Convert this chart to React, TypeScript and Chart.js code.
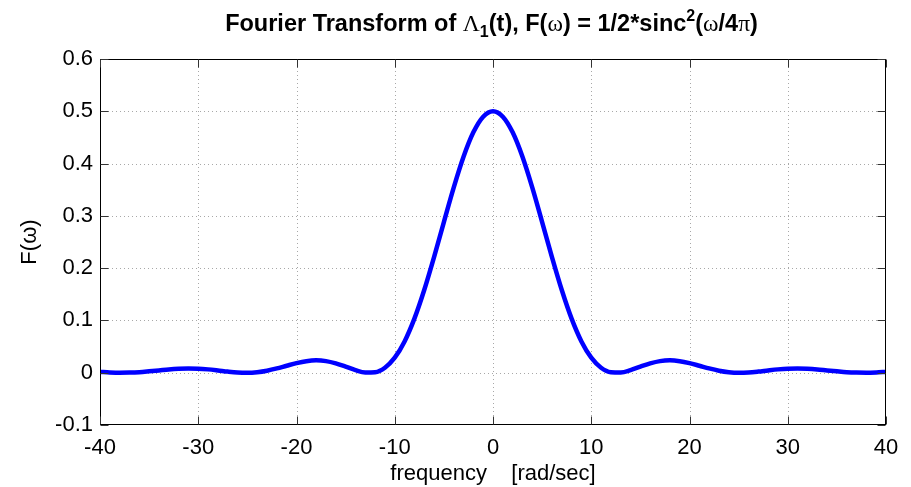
import React, { useEffect, useRef } from "react";
import { Chart, registerables } from "chart.js";

Chart.register(...registerables);

// ---- data ----
const frequency: number[] = [
  -40, -39, -38, -37, -36, -35, -34, -33, -32, -31, -30, -29, -28, -27, -26, -25, -24, -23, -22, -21,
  -20, -19, -18, -17, -16, -15, -14, -13, -12, -11, -10, -9, -8, -7, -6, -5, -4, -3, -2, -1,
  0,
  1, 2, 3, 4, 5, 6, 7, 8, 9, 10, 11, 12, 13, 14, 15, 16, 17, 18, 19, 20,
  21, 22, 23, 24, 25, 26, 27, 28, 29, 30, 31, 32, 33, 34, 35, 36, 37, 38, 39, 40,
];

const magnitude: number[] = [
  0.0015, 0.0005, 0.0, 0.0002, 0.001, 0.0026, 0.0044, 0.0063, 0.0076, 0.0082,
  0.0078, 0.0064, 0.0044, 0.0022, 0.0005, 0.0, 0.0011, 0.0039, 0.0082, 0.0134,
  0.0184, 0.0221, 0.0236, 0.0222, 0.0179, 0.0116, 0.005, 0.0006, 0.0011, 0.0096,
  0.0287, 0.0598, 0.1034, 0.1581, 0.2211, 0.2882, 0.354, 0.413, 0.4597, 0.4897,
  0.5,
  0.4897, 0.4597, 0.413, 0.354, 0.2882, 0.2211, 0.1581, 0.1034, 0.0598, 0.0287,
  0.0096, 0.0011, 0.0006, 0.005, 0.0116, 0.0179, 0.0222, 0.0236, 0.0221, 0.0184,
  0.0134, 0.0082, 0.0039, 0.0011, 0.0, 0.0005, 0.0022, 0.0044, 0.0064, 0.0078,
  0.0082, 0.0076, 0.0063, 0.0044, 0.0026, 0.001, 0.0002, 0.0, 0.0005, 0.0015,
];

const xTickValues: number[] = [-40, -30, -20, -10, 0, 10, 20, 30, 40];
const xTickLabels: string[] = ["-40", "-30", "-20", "-10", "0", "10", "20", "30", "40"];
const yTickValues: number[] = [-0.1, 0, 0.1, 0.2, 0.3, 0.4, 0.5, 0.6];
const yTickLabels: string[] = ["-0.1", "0", "0.1", "0.2", "0.3", "0.4", "0.5", "0.6"];

const xAxisTitle = "frequency    [rad/sec]";
const yAxisTitle = "F(\u03c9)";

// title pieces: b = bold sans, s = symbol (serif), sub / sup = small bold
const titleParts: { text: string; kind: string }[] = [
  { text: "Fourier Transform of ", kind: "b" },
  { text: "\u039b", kind: "s" },
  { text: "1", kind: "sub" },
  { text: "(t), F(", kind: "b" },
  { text: "\u03c9", kind: "s" },
  { text: ") = 1/2*sinc", kind: "b" },
  { text: "2", kind: "sup" },
  { text: "(", kind: "b" },
  { text: "\u03c9", kind: "s" },
  { text: "/4", kind: "b" },
  { text: "\u03c0", kind: "s" },
  { text: ")", kind: "b" },
];

const SANS = '"Liberation Sans", Arial, Helvetica, sans-serif';
const SERIF = '"Liberation Serif", "Times New Roman", serif';

const partFont = (kind: string) => {
  if (kind === "b") return `bold 23.5px ${SANS}`;
  if (kind === "s") return `23.5px ${SERIF}`;
  return `bold 16px ${SANS}`;
};
const partDy = (kind: string) => (kind === "sub" ? 6 : kind === "sup" ? -10 : 0);

const matlabAxesPlugin = {
  id: "matlabAxes",
  beforeDatasetsDraw(chart: any) {
    const { ctx, chartArea } = chart;
    const xs = chart.scales.x;
    const ys = chart.scales.y;
    ctx.save();
    ctx.strokeStyle = "#a8a8a8";
    ctx.lineWidth = 1;
    ctx.setLineDash([1, 3]);
    xTickValues.forEach((v) => {
      const px = Math.round(xs.getPixelForValue(v)) + 0.5;
      if (px <= chartArea.left + 1 || px >= chartArea.right - 1) return;
      ctx.beginPath();
      ctx.moveTo(px, chartArea.top);
      ctx.lineTo(px, chartArea.bottom);
      ctx.stroke();
    });
    yTickValues.forEach((v) => {
      const py = Math.round(ys.getPixelForValue(v)) + 0.5;
      if (py <= chartArea.top + 1 || py >= chartArea.bottom - 1) return;
      ctx.beginPath();
      ctx.moveTo(chartArea.left, py);
      ctx.lineTo(chartArea.right, py);
      ctx.stroke();
    });
    ctx.restore();
  },
  afterDatasetsDraw(chart: any) {
    const { ctx, chartArea } = chart;
    const xs = chart.scales.x;
    const ys = chart.scales.y;
    const L = Math.round(chartArea.left) + 0.5;
    const R = Math.round(chartArea.right) - 0.5;
    const T = Math.round(chartArea.top) + 0.5;
    const B = Math.round(chartArea.bottom) - 0.5;
    const tl = 8;
    ctx.save();
    ctx.setLineDash([]);
    ctx.strokeStyle = "#000";
    ctx.lineWidth = 1;
    ctx.strokeRect(L, T, R - L, B - T);
    ctx.strokeStyle = "#333";
    ctx.beginPath();
    xTickValues.forEach((v) => {
      const px = Math.round(xs.getPixelForValue(v)) + 0.5;
      ctx.moveTo(px, B);
      ctx.lineTo(px, B - tl);
      ctx.moveTo(px, T);
      ctx.lineTo(px, T + tl);
    });
    yTickValues.forEach((v) => {
      const py = Math.round(ys.getPixelForValue(v)) + 0.5;
      ctx.moveTo(L, py);
      ctx.lineTo(L + tl, py);
      ctx.moveTo(R, py);
      ctx.lineTo(R - tl, py);
    });
    ctx.stroke();
    ctx.restore();
  },
  afterDraw(chart: any) {
    const { ctx } = chart;
    ctx.save();
    ctx.fillStyle = "#000";
    ctx.textBaseline = "alphabetic";
    ctx.textAlign = "left";
    let total = 0;
    const widths = titleParts.map((p) => {
      ctx.font = partFont(p.kind);
      const w = ctx.measureText(p.text).width;
      total += w;
      return w;
    });
    const centerX = 491.5;
    const baseY = 31;
    let x = centerX - total / 2;
    titleParts.forEach((p, i) => {
      ctx.font = partFont(p.kind);
      ctx.fillText(p.text, x, baseY + partDy(p.kind));
      x += widths[i];
    });
    ctx.restore();
  },
};

export default function App() {
  const canvasRef = useRef<HTMLCanvasElement | null>(null);

  useEffect(() => {
    if (!canvasRef.current) return;
    const points = frequency.map((f, i) => ({ x: f, y: magnitude[i] }));
    const chart = new Chart(canvasRef.current, {
      type: "line",
      data: {
        datasets: [
          {
            data: points,
            borderColor: "#0000ff",
            borderWidth: 4.5,
            pointRadius: 0,
            fill: false,
            cubicInterpolationMode: "monotone",
          },
        ],
      },
      options: {
        responsive: false,
        animation: false,
        devicePixelRatio: 1,
        layout: { padding: { top: 59, right: 25, bottom: 0, left: 0 } },
        plugins: {
          legend: { display: false },
          title: { display: false },
          tooltip: { enabled: false },
        },
        scales: {
          x: {
            type: "linear",
            min: -40,
            max: 40,
            grid: { display: false, drawTicks: false, tickLength: 0 },
            border: { display: false },
            afterBuildTicks: (scale: any) => {
              scale.ticks = xTickValues.map((v) => ({ value: v }));
            },
            afterFit: (scale: any) => {
              scale.height = 62;
            },
            ticks: {
              autoSkip: false,
              maxRotation: 0,
              padding: 10,
              color: "#000",
              font: { family: SANS, size: 22 },
              callback: (_v: any, i: number) => xTickLabels[i],
            },
            title: {
              display: true,
              text: xAxisTitle,
              color: "#000",
              font: { family: SANS, size: 22 },
              padding: { top: 0, bottom: 0 },
            },
          },
          y: {
            type: "linear",
            min: -0.1,
            max: 0.6,
            grid: { display: false, drawTicks: false, tickLength: 0 },
            border: { display: false },
            afterBuildTicks: (scale: any) => {
              scale.ticks = yTickValues.map((v) => ({ value: v }));
            },
            afterFit: (scale: any) => {
              scale.width = 100;
            },
            ticks: {
              autoSkip: false,
              padding: 7,
              color: "#000",
              font: { family: SANS, size: 22 },
              callback: (_v: any, i: number) => yTickLabels[i],
            },
            title: {
              display: true,
              text: yAxisTitle,
              color: "#000",
              font: { family: SANS, size: 22 },
              padding: { top: 17, bottom: 0 },
            },
          },
        },
      },
      plugins: [matlabAxesPlugin],
    } as any);
    return () => chart.destroy();
  }, []);

  return (
    <div style={{ position: "fixed", left: 0, top: 0, width: 911, height: 487, background: "#fff" }}>
      <canvas ref={canvasRef} width={911} height={487} style={{ display: "block" }} />
    </div>
  );
}
